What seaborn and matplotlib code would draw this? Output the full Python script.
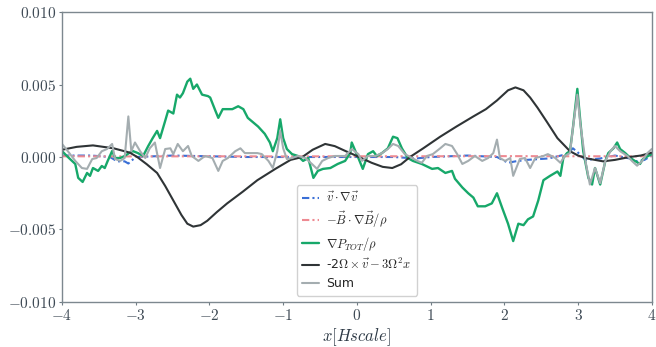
import numpy as np
import pandas as pd
import matplotlib
matplotlib.use("Agg")
import matplotlib.pyplot as plt
import seaborn as sns
from matplotlib.ticker import FuncFormatter, MultipleLocator

# ---------------- data ----------------
green_x = [-4.00, -3.91, -3.82, -3.78, -3.72, -3.66, -3.62, -3.58, -3.51, -3.46, -3.42, -3.38,
           -3.32, -3.28, -3.21, -3.15, -3.09, -3.04, -2.97, -2.90, -2.83, -2.77, -2.71, -2.67,
           -2.60, -2.56, -2.49, -2.44, -2.40, -2.36, -2.30, -2.26, -2.22, -2.17, -2.10, -2.02,
           -1.99, -1.92, -1.88, -1.82, -1.69, -1.61, -1.54, -1.48, -1.34, -1.25, -1.18, -1.14,
           -1.08, -1.04, -1.00, -0.95, -0.88, -0.80, -0.73, -0.66, -0.59, -0.53, -0.46, -0.36,
           -0.26, -0.16, -0.09, -0.07, -0.02, 0.02, 0.08, 0.15, 0.22, 0.27, 0.34, 0.42,
           0.49, 0.55, 0.61, 0.69, 0.76, 0.88, 1.02, 1.10, 1.20, 1.29, 1.33, 1.43,
           1.51, 1.58, 1.64, 1.74, 1.83, 1.90, 1.97, 2.05, 2.12, 2.19, 2.26, 2.32,
           2.39, 2.46, 2.53, 2.62, 2.72, 2.76, 2.80, 2.85, 2.89, 2.93, 2.99, 3.03,
           3.07, 3.14, 3.19, 3.23, 3.30, 3.37, 3.41, 3.48, 3.53, 3.57, 3.64, 3.71,
           3.77, 3.84, 3.88, 3.95, 4.00]
green_y = [0.00041, -0.00005, -0.00048, -0.00144, -0.00172, -0.00110, -0.00130, -0.00076, -0.00096, -0.00062, -0.00076, -0.00027,
           0.00041, -0.00007, -0.00007, 0.00007, 0.00027, 0.00041, 0.00027, 0.00007, 0.00076, 0.00130, 0.00180, 0.00130,
           0.00250, 0.00320, 0.00300, 0.00430, 0.00410, 0.00440, 0.00520, 0.00540, 0.00470, 0.00500, 0.00430, 0.00420,
           0.00410, 0.00320, 0.00270, 0.00330, 0.00330, 0.00350, 0.00330, 0.00270, 0.00210, 0.00160, 0.00100, 0.00040,
           0.00130, 0.00260, 0.00130, 0.00055, 0.00020, 0.00007, -0.00027, -0.00007, -0.00144, -0.00096, -0.00082, -0.00076,
           -0.00048, -0.00027, 0.00027, 0.00100, 0.00040, -0.00007, -0.00082, 0.00020, 0.00040, 0.00007, 0.00027, 0.00060,
           0.00140, 0.00130, 0.00060, -0.00007, -0.00027, -0.00048, -0.00082, -0.00076, -0.00110, -0.00096, -0.00150, -0.00210,
           -0.00250, -0.00280, -0.00340, -0.00340, -0.00320, -0.00250, -0.00350, -0.00460, -0.00580, -0.00460, -0.00470, -0.00430,
           -0.00410, -0.00300, -0.00160, -0.00130, -0.00100, -0.00130, -0.00007, 0.00027, 0.00040, 0.00200, 0.00470, 0.00250,
           0.00040, -0.00144, -0.00190, -0.00076, -0.00190, -0.00027, 0.00027, 0.00060, 0.00100, 0.00055, 0.00027, -0.00007,
           -0.00027, -0.00048, -0.00014, 0.00007, 0.00020]

sum_x = [-4.00, -3.92, -3.82, -3.73, -3.66, -3.59, -3.53, -3.46, -3.39, -3.32, -3.28, -3.21,
         -3.15, -3.10, -3.06, -3.01, -2.94, -2.87, -2.81, -2.74, -2.67, -2.60, -2.53, -2.49,
         -2.43, -2.36, -2.29, -2.24, -2.15, -2.06, -1.96, -1.88, -1.82, -1.75, -1.65, -1.58,
         -1.52, -1.42, -1.35, -1.29, -1.20, -1.14, -1.08, -1.04, -1.00, -0.95, -0.88, -0.80,
         -0.70, -0.61, -0.54, -0.47, -0.39, -0.30, -0.16, -0.07, 0.02, 0.07, 0.15, 0.25,
         0.34, 0.42, 0.49, 0.56, 0.65, 0.75, 0.82, 0.88, 0.95, 1.03, 1.13, 1.20,
         1.29, 1.36, 1.43, 1.51, 1.60, 1.70, 1.78, 1.85, 1.90, 1.94, 2.01, 2.08,
         2.12, 2.21, 2.28, 2.35, 2.42, 2.53, 2.59, 2.69, 2.76, 2.82, 2.89, 2.93,
         2.99, 3.03, 3.10, 3.16, 3.23, 3.30, 3.37, 3.44, 3.50, 3.57, 3.67, 3.73,
         3.80, 3.87, 3.94, 4.00]
sum_y = [0.00090, 0.00040, -0.00027, -0.00076, -0.00082, -0.00014, -0.00007, 0.00040, 0.00055, 0.00090, -0.00014, -0.00027,
         -0.00007, 0.00280, 0.00040, 0.00100, 0.00040, -0.00007, 0.00060, 0.00100, -0.00076, 0.00055, 0.00060, 0.00020,
         0.00090, 0.00040, 0.00076, 0.00007, -0.00027, 0.00007, -0.00007, -0.00096, -0.00027, -0.00007, 0.00040, 0.00060,
         0.00027, 0.00027, 0.00027, 0.00020, -0.00027, -0.00076, 0.00040, 0.00180, 0.00060, -0.00014, -0.00007, 0.00007,
         -0.00007, -0.00048, -0.00082, -0.00027, -0.00007, 0.00007, 0.00007, 0.00055, 0.00020, -0.00027, 0.00007, 0.00007,
         0.00027, 0.00055, 0.00090, 0.00076, 0.00020, -0.00007, -0.00027, -0.00040, 0.00007, 0.00020, 0.00060, 0.00090,
         0.00076, 0.00020, -0.00048, -0.00027, 0.00007, -0.00027, -0.00007, 0.00027, 0.00120, -0.00007, -0.00027, -0.00007,
         -0.00130, -0.00014, -0.00007, -0.00076, -0.00007, 0.00007, 0.00020, -0.00007, -0.00040, 0.00007, 0.00027, 0.00200,
         0.00430, 0.00230, -0.00027, -0.00190, -0.00076, -0.00180, -0.00027, 0.00040, 0.00076, 0.00040, 0.00007, -0.00027,
         -0.00060, -0.00027, 0.00027, 0.00055]

rot_x = [-4.00, -3.80, -3.58, -3.30, -3.08, -2.98, -2.85, -2.71, -2.60, -2.49, -2.38, -2.30,
         -2.22, -2.12, -2.03, -1.90, -1.76, -1.55, -1.35, -1.10, -0.90, -0.74, -0.60, -0.43,
         -0.30, -0.15, 0.00, 0.20, 0.35, 0.48, 0.60, 0.72, 0.90, 1.13, 1.35, 1.58,
         1.75, 1.90, 2.05, 2.15, 2.26, 2.35, 2.45, 2.58, 2.72, 2.89, 3.00, 3.12,
         3.34, 3.50, 3.70, 3.85, 4.00]
rot_y = [0.00050, 0.00070, 0.00080, 0.00060, 0.00030, 0.00000, -0.00050, -0.00110, -0.00200, -0.00300, -0.00400, -0.00460,
         -0.00480, -0.00470, -0.00440, -0.00380, -0.00320, -0.00240, -0.00160, -0.00080, -0.00020, 0.00000, 0.00050, 0.00090,
         0.00075, 0.00040, 0.00007, -0.00040, -0.00068, -0.00076, -0.00050, 0.00000, 0.00060, 0.00140, 0.00210, 0.00280,
         0.00330, 0.00390, 0.00460, 0.00480, 0.00460, 0.00410, 0.00340, 0.00240, 0.00130, 0.00040, 0.00010, -0.00010,
         -0.00030, -0.00020, 0.00000, 0.00010, 0.00030]

adv_x = [-4.00, -3.60, -3.35, -3.25, -3.15, -3.10, -3.00, -2.50, -1.50, -0.50, 0.00, 0.50,
         0.80, 1.00, 1.50, 1.90, 2.05, 2.15, 2.30, 2.60, 2.85, 2.93, 3.00, 3.10,
         3.30, 3.50, 3.70, 3.80, 3.90, 4.00]
adv_y = [0.00010, 0.00010, 0.00000, -0.00030, -0.00030, -0.00045, 0.00000, 0.00010, 0.00000, 0.00000, 0.00000, 0.00000,
         -0.00010, 0.00000, 0.00010, 0.00000, -0.00040, -0.00030, -0.00020, -0.00010, 0.00020, 0.00060, 0.00030, -0.00020,
         -0.00010, 0.00010, -0.00010, -0.00030, -0.00020, 0.00010]

mag_x = [-4.00, -3.00, -2.00, -1.00, 0.00, 1.00, 2.00, 3.00, 4.00]
mag_y = [0.00005, 0.00004, 0.00005, 0.00004, 0.00005, 0.00005, 0.00006, 0.00005, 0.00005]

labels = [r"$\vec{v}\cdot\nabla\vec{v}$",
          r"$-\vec{B}\cdot\nabla\vec{B}/\rho$",
          r"$\nabla P_{TOT}/\rho$",
          r"-2$\Omega\times\vec{v}-3\Omega^2x$",
          "Sum"]
x_ticks = [-4, -3, -2, -1, 0, 1, 2, 3, 4]
y_ticks = [-0.010, -0.005, 0.000, 0.005, 0.010]

# ---------------- style ----------------
sns.set_theme(style="ticks")
plt.rcParams["font.family"] = ["DejaVu Sans"]
plt.rcParams["mathtext.fontset"] = "cm"

fig = plt.figure(figsize=(6.56, 3.47), dpi=100)
ax = fig.add_axes([0.0945, 0.1297, 0.8991, 0.8357])

sns.lineplot(x=adv_x, y=adv_y, ax=ax, color="#3a6fd6", lw=1.5,
             linestyle=(0, (3.5, 1.5, 1, 1.5)), label=labels[0], sort=False)
sns.lineplot(x=mag_x, y=mag_y, ax=ax, color="#ee8a92", lw=1.5,
             linestyle=(0, (3.5, 1.5, 1, 1.5)), label=labels[1], sort=False)
sns.lineplot(x=green_x, y=green_y, ax=ax, color="#17a86a", lw=1.7,
             label=labels[2], sort=False)
sns.lineplot(x=rot_x, y=rot_y, ax=ax, color="#2f3436", lw=1.5,
             label=labels[3], sort=False)
sns.lineplot(x=sum_x, y=sum_y, ax=ax, color="#a4adb0", lw=1.5,
             label=labels[4], sort=False)

ax.set_xlim(-4, 4)
ax.set_ylim(-0.010, 0.010)
ax.set_xticks(x_ticks)
ax.set_yticks(y_ticks)
ax.xaxis.set_major_formatter(FuncFormatter(lambda v, p: f"${v:.0f}$"))
ax.yaxis.set_major_formatter(FuncFormatter(lambda v, p: f"${v:.3f}$"))
ax.tick_params(axis="both", labelsize=11, length=2.5, width=0.8,
               color="#6f7c84", labelcolor="#3e4a55", pad=2)
for s in ax.spines.values():
    s.set_color("#7d888f")
    s.set_linewidth(1.0)
ax.set_xlabel(r"$x[Hscale]$", fontsize=12, color="#2e3a46", labelpad=2)
ax.set_ylabel("")

leg = ax.legend(loc="lower center", bbox_to_anchor=(0.5, 0.0), fontsize=9,
                handlelength=1.3, labelspacing=0.38, borderpad=0.45,
                handletextpad=0.6, frameon=True, fancybox=True,
                framealpha=0.9, edgecolor="#cccccc")
fig.savefig("out.png", dpi=100)
